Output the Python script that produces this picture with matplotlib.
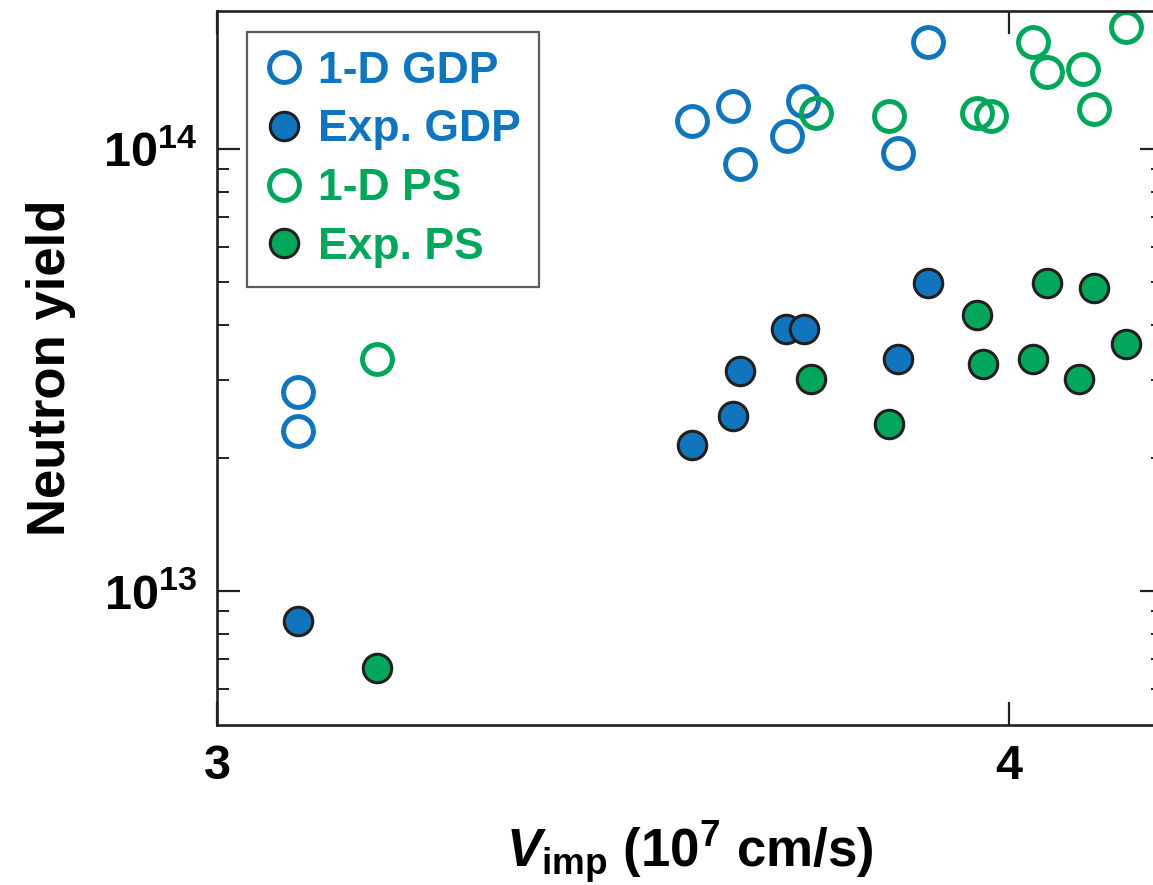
import numpy as np
import matplotlib
matplotlib.use('Agg')
import matplotlib.pyplot as plt
from matplotlib.ticker import FixedLocator, FixedFormatter, NullFormatter, NullLocator

plt.rcParams['font.family'] = ['Liberation Sans', 'DejaVu Sans']
plt.rcParams['font.weight'] = 'bold'
plt.rcParams['axes.labelweight'] = 'bold'
plt.rcParams['mathtext.fontset'] = 'custom'
plt.rcParams['mathtext.rm'] = 'Liberation Sans:bold'
plt.rcParams['mathtext.bf'] = 'Liberation Sans:bold'
plt.rcParams['mathtext.it'] = 'Liberation Sans:italic:bold'

# implosion velocity (1e7 cm/s) and neutron yield
gdp_1d_v = [3.102, 3.102, 3.600, 3.652, 3.660, 3.720, 3.740, 3.860, 3.898]
gdp_1d_y = [2.82e13, 2.30e13, 1.157e14, 1.251e14, 9.25e13, 1.070e14, 1.284e14, 9.79e13, 1.746e14]

gdp_exp_v = [3.102, 3.600, 3.652, 3.660, 3.718, 3.741, 3.860, 3.898]
gdp_exp_y = [8.55e12, 2.14e13, 2.49e13, 3.14e13, 3.92e13, 3.92e13, 3.35e13, 4.97e13]

ps_1d_v = [3.202, 3.756, 3.848, 3.960, 3.977, 4.030, 4.048, 4.093, 4.107, 4.148]
ps_1d_y = [3.35e13, 1.206e14, 1.188e14, 1.206e14, 1.188e14, 1.746e14, 1.494e14, 1.517e14, 1.232e14, 1.888e14]

ps_exp_v = [3.202, 3.750, 3.848, 3.960, 3.967, 4.030, 4.048, 4.088, 4.107, 4.148]
ps_exp_y = [6.70e12, 3.02e13, 2.39e13, 4.21e13, 3.26e13, 3.35e13, 4.97e13, 3.02e13, 4.85e13, 3.62e13]

x_ticks = [3, 4]
y_ticks = [1e13, 1e14]
y_minor = [6e12, 7e12, 8e12, 9e12, 2e13, 3e13, 4e13, 5e13, 6e13, 7e13, 8e13, 9e13]

blue = '#1075bc'
green = '#00a65a'
edge = '#231f20'

W, H = 1153, 885
fig = plt.figure(figsize=(W / 100, H / 100), dpi=100)
ax = fig.add_axes([217 / W, (H - 725) / H, (1163 - 217) / W, 714 / H])

ax.plot(gdp_1d_v, gdp_1d_y, 'o', ls='none', ms=21.5, mfc='none', mec=blue, mew=3.6,
        label='1-D GDP')
ax.plot(gdp_exp_v, gdp_exp_y, 'o', ls='none', ms=20.5, mfc=blue, mec=edge, mew=2.2,
        label='Exp. GDP')
ax.plot(ps_1d_v, ps_1d_y, 'o', ls='none', ms=21.5, mfc='none', mec=green, mew=3.6,
        label='1-D PS')
ax.plot(ps_exp_v, ps_exp_y, 'o', ls='none', ms=20.5, mfc=green, mec=edge, mew=2.2,
        label='Exp. PS')

ax.set_yscale('log')
ax.set_xlim(3, 3 + (1163 - 217) / 792)
ax.set_ylim(10 ** (14 - (725 - 149) / 442), 10 ** (14 + (149 - 11) / 442))

ax.xaxis.set_major_locator(FixedLocator(x_ticks))
ax.xaxis.set_major_formatter(FixedFormatter([str(v) for v in x_ticks]))
ax.xaxis.set_minor_locator(NullLocator())
ax.yaxis.set_major_locator(FixedLocator(y_ticks))
ax.yaxis.set_major_formatter(FixedFormatter([r'$\mathbf{10^{%d}}$' % round(np.log10(v)) for v in y_ticks]))
ax.yaxis.set_minor_locator(FixedLocator(y_minor))
ax.yaxis.set_minor_formatter(NullFormatter())

for s in ax.spines.values():
    s.set_linewidth(1.9)
    s.set_color(edge)
ax.tick_params(which='both', direction='in', top=True, right=True, color=edge)
ax.tick_params(which='major', length=16.5, width=1.6, labelsize=35, pad=14)
ax.tick_params(which='minor', length=8.5, width=1.4)

ax.set_xlabel(r'$V_{\mathbf{imp}}$ (10$^{\mathbf{7}}$ cm/s)', fontsize=38, labelpad=22)
ax.set_ylabel('Neutron yield', fontsize=38, labelpad=20)

leg = ax.legend(loc='upper left', bbox_to_anchor=(0.032, 0.9706), borderaxespad=0,
                fontsize=32, frameon=True, fancybox=False, handlelength=0.8,
                handletextpad=0.37, labelspacing=0.4, borderpad=0.42)
leg.get_frame().set_edgecolor('#333333')
leg.get_frame().set_linewidth(1.6)
for t, c in zip(leg.get_texts(), [blue, blue, green, green]):
    t.set_color(c)

fig.savefig('out.png', dpi=100)
